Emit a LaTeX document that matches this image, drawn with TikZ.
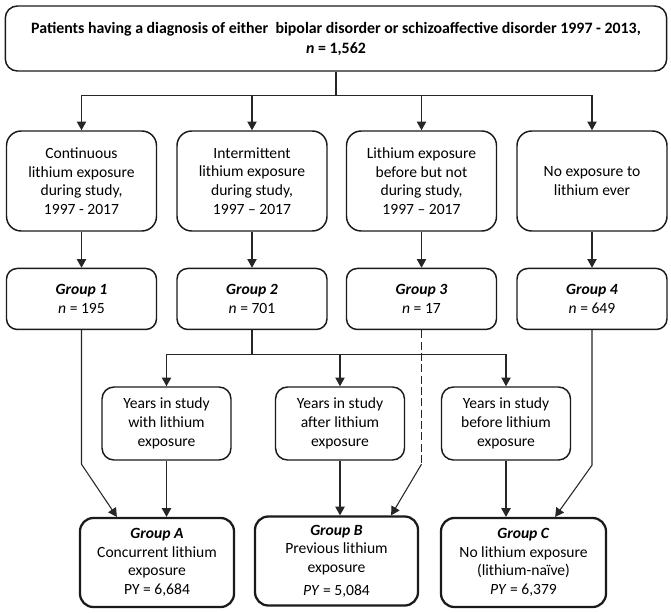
\documentclass[tikz,border=0pt]{standalone}
\usepackage{fontspec}
\setmainfont{Carlito}
\usetikzlibrary{arrows.meta,calc,positioning}
\definecolor{Ink}{HTML}{1A1A1A}
\definecolor{Wire}{HTML}{262626}
\tikzset{box/.style={rounded corners=11pt,draw=Ink,line width=1.1pt,align=center,inner sep=2pt,font=\fontsize{11.7}{14}\selectfont},head/.style={box,rounded corners=9pt,minimum width=496pt,minimum height=48.75pt,font=\bfseries\fontsize{11.9}{15}\selectfont},expo/.style={box,minimum width=112.5pt,minimum height=75pt},grp/.style={box,rounded corners=8pt,minimum width=112.5pt,minimum height=45.75pt},yrs/.style={box,rounded corners=9pt,minimum width=96.75pt,minimum height=54.75pt},cohort/.style={box,rounded corners=10pt,line width=1.7pt,minimum height=66.75pt},flow/.style={-{Triangle[length=6.5pt,width=7pt]},line width=.8pt,draw=Wire},link/.style={line width=.8pt,draw=Wire}}
\begin{document}
\begin{tikzpicture}[x=.75pt,y=-.75pt]
  \useasboundingbox (0,0) rectangle (671,613);
  % all patients
  \node[head](top) at (336,38.5){Patients having a diagnosis of either\ \ bipolar disorder or schizoaffective disorder 1997 - 2013,\\\textit{n} = 1,562};
  % exposure during study
  \node[expo](e1) at (81.5,181){Continuous\\lithium exposure\\during study,\\1997 - 2017};
  \node[expo](e2) at (252,181){Intermittent\\lithium exposure\\during study,\\1997 -- 2017};
  \node[expo](e3) at (421.5,181){Lithium exposure\\before but not\\during study,\\1997 -- 2017};
  \node[expo](e4) at (592,181){No exposure to\\lithium ever};
  \node[grp,below=27pt of e1](g1){\textbf{\textit{Group 1}}\\\textit{n} = 195};
  \node[grp,below=27pt of e2](g2){\textbf{\textit{Group 2}}\\\textit{n} = 701};
  \node[grp,below=27pt of e3](g3){\textbf{\textit{Group 3}}\\\textit{n} = 17};
  \node[grp,below=27pt of e4](g4){\textbf{\textit{Group 4}}\\\textit{n} = 649};
  % years of group 2
  \node[yrs](y1) at (166.5,423.5){Years in study\\with lithium\\exposure};
  \node[yrs](y2) at (340,423.5){Years in study\\after lithium\\exposure};
  \node[yrs](y3) at (506,423.5){Years in study\\before lithium\\exposure};
  % analysed groups
  \node[cohort,minimum width=115.5pt](cA) at (157,562.5){\textbf{\textit{Group A}}\\Concurrent lithium\\exposure\\PY = 6,684};
  \node[cohort,minimum width=122.25pt](cB) at (336.5,561){\textbf{\textit{Group B}}\\Previous lithium\\exposure\\[3pt]\textit{PY} = 5,084};
  \node[cohort,minimum width=123.75pt](cC) at (523.5,562.5){\textbf{\textit{Group C}}\\No lithium exposure\\(lithium-naïve)\\\textit{PY} = 6,379};
  \draw[link](top.south)--++(0,24)coordinate(fan);
  \draw[flow](fan)-|(e1.north);\draw[flow](fan)-|(e2.north);\draw[flow](fan)-|(e3.north);\draw[flow](fan)-|(e4.north);
  \draw[flow](e1)--(g1);\draw[flow](e2)--(g2);\draw[flow](e3)--(g3);\draw[flow](e4)--(g4);
  \draw[link](g2.south)--++(0,24)coordinate(split);
  \draw[flow](split)-|(y1.north);\draw[flow](split)-|(y2.north);\draw[flow](split)-|(y3.north);
  \draw[flow](y1.south)--(y1.south|-cA.north);\draw[flow](y2.south)--(y2.south|-cB.north);\draw[flow](y3.south)--(y3.south|-cC.north);
  \draw[flow](g1.south)--++(0,134)--($(cA.north west)+(38,0)$);
  \draw[link,dash pattern=on 6pt off 2.5pt](g3.south)--++(0,134)coordinate(g3bend);
  \draw[flow](g3bend)--($(cB.north east)+(-28,0)$);
  \draw[flow](g4.south)--++(0,135)--($(cC.north east)+(-52,0)$);
\end{tikzpicture}
\end{document}
